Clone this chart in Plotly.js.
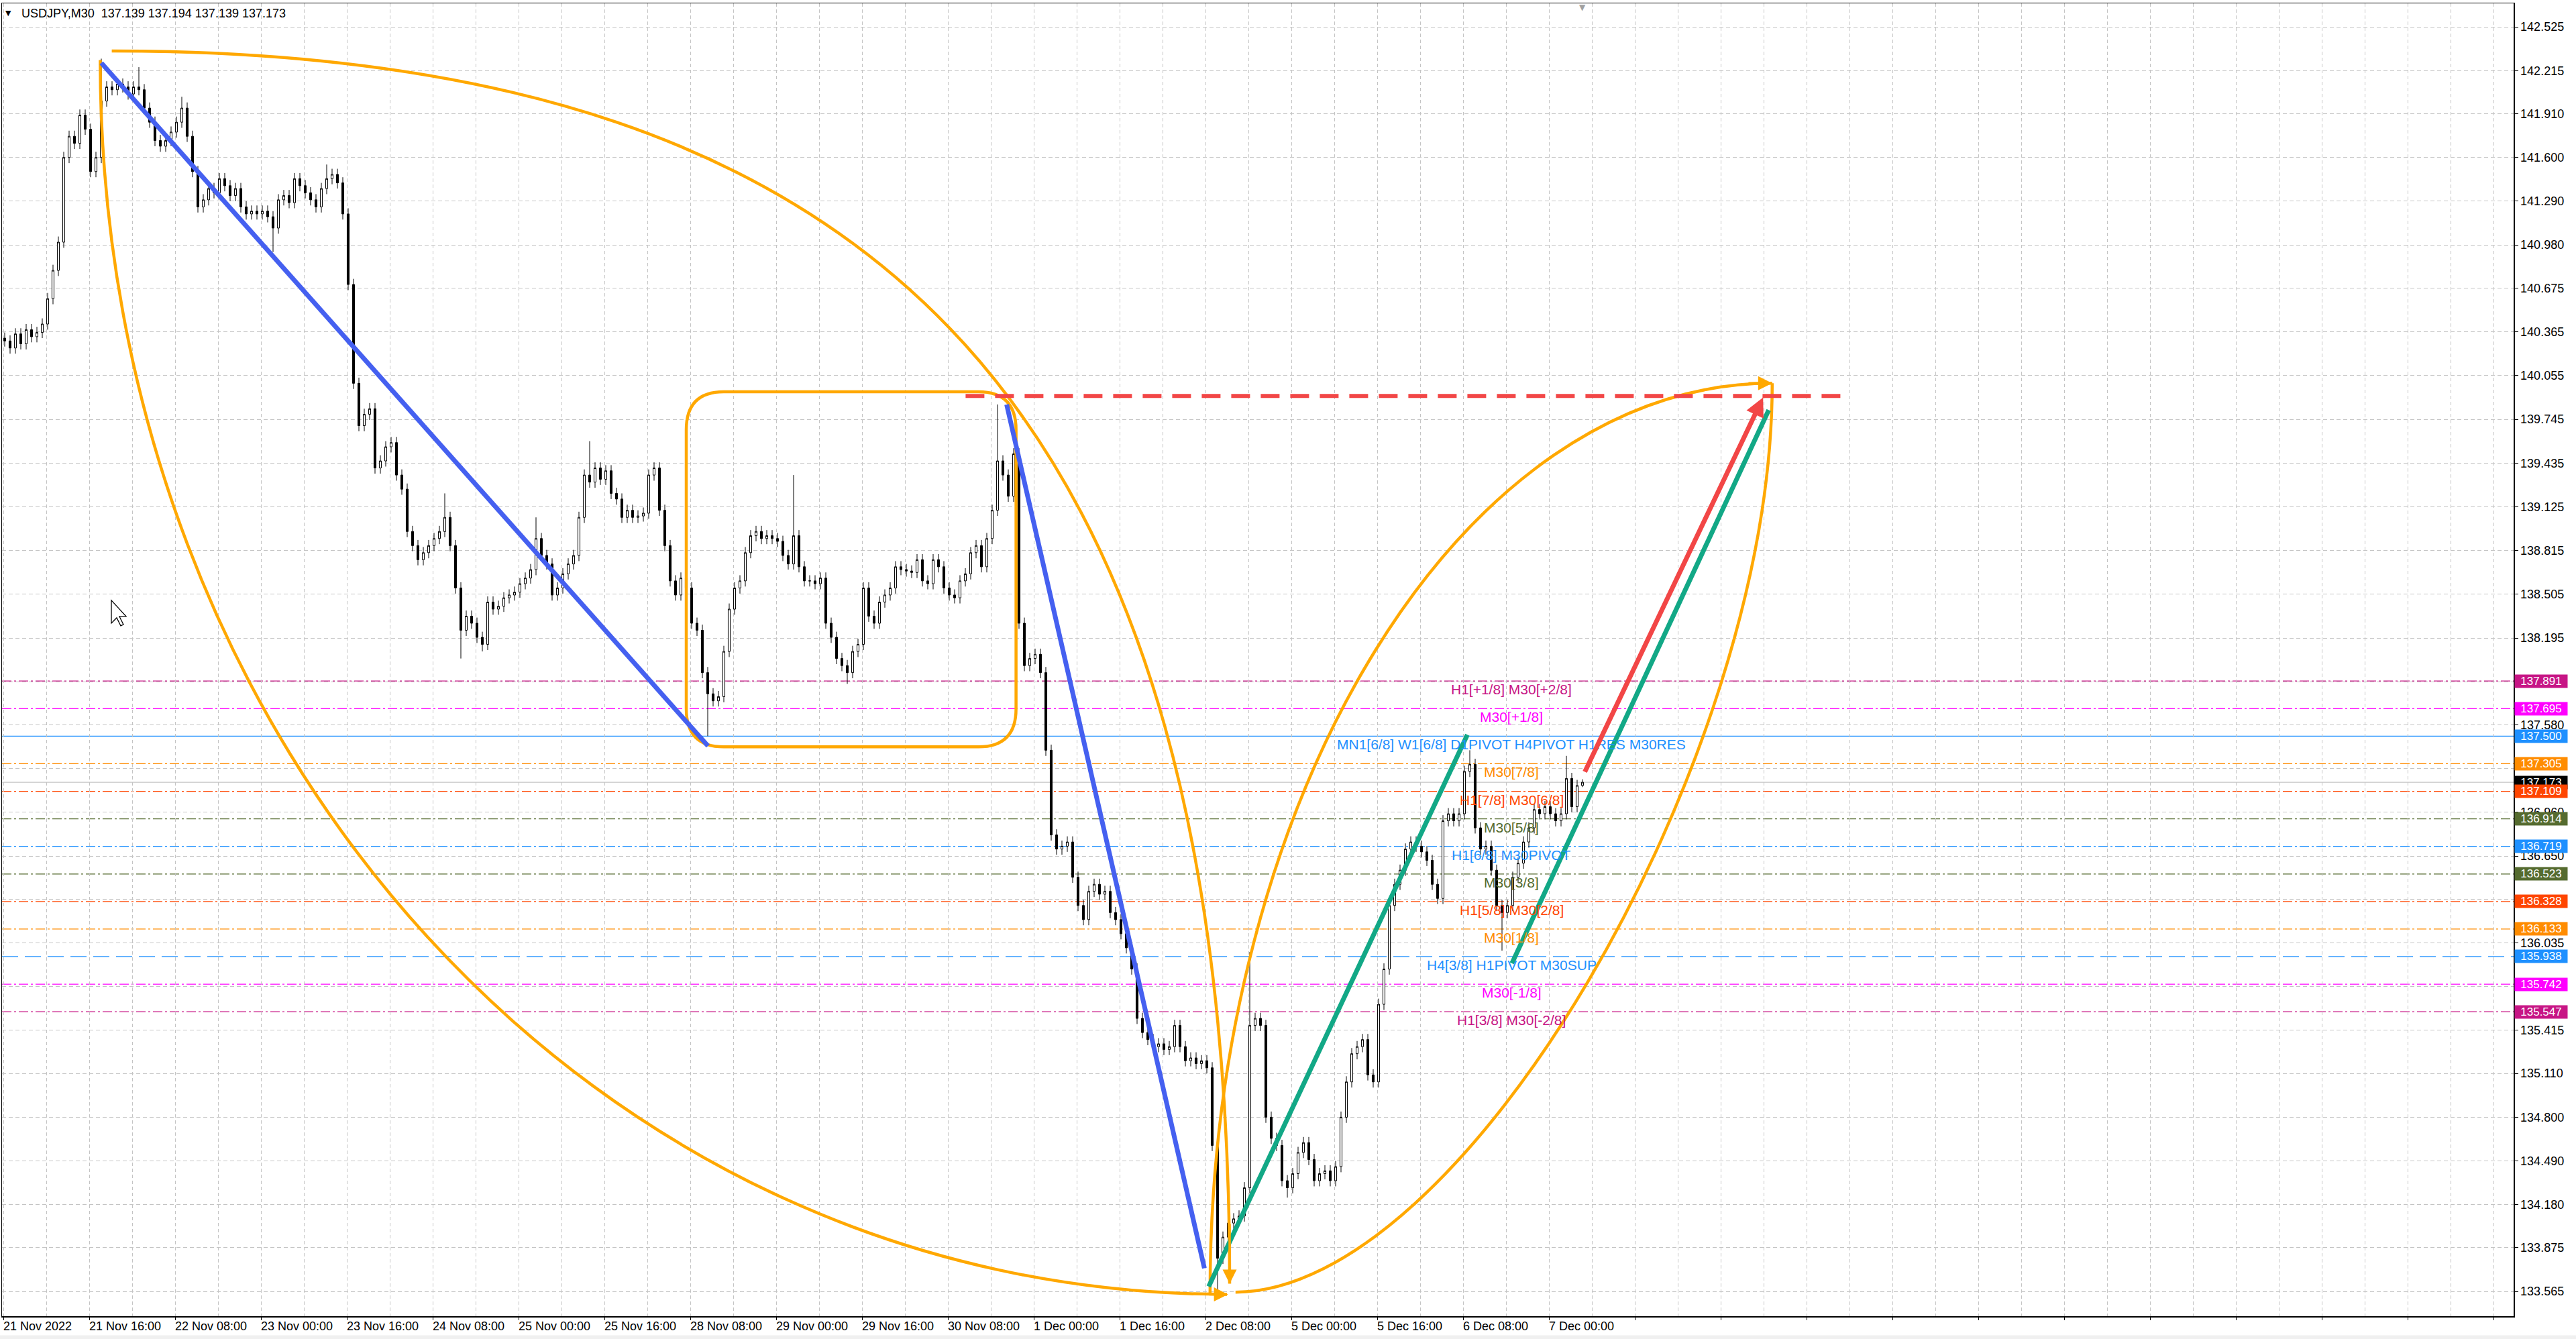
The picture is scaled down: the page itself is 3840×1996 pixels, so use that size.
<!DOCTYPE html>
<html>
<head>
<meta charset="utf-8">
<script src="https://cdn.plot.ly/plotly-3.0.1.min.js"></script>
<style>
html, body { margin: 0; padding: 0; background: #fff; }
#chart { width: 3840px; height: 1996px; }
</style>
</head>
<body>
<div id="chart"></div>
<script>
// hourly closes, one value per two bars (bar 0 = 21 Nov 00:00)
var closes = [
  140.30, 140.25, 140.35, 140.28, 140.38, 140.33, 140.36, 140.42, 140.60, 140.80,
  141.00, 141.60, 141.75, 141.70, 141.90, 141.80, 141.50, 141.60, 142.00, 142.10,
  142.08, 142.12, 142.10, 142.05, 142.10, 142.08, 141.95, 141.85, 141.72, 141.68,
  141.72, 141.78, 141.85, 141.95, 141.75, 141.50, 141.25, 141.30, 141.38, 141.35,
  141.45, 141.40, 141.33, 141.38, 141.25, 141.20, 141.22, 141.20, 141.22, 141.18,
  141.10, 141.30, 141.33, 141.28, 141.45, 141.40, 141.35, 141.30, 141.25, 141.38,
  141.45, 141.48, 141.42, 141.20, 140.70, 140.00, 139.70, 139.78, 139.82, 139.40,
  139.45, 139.55, 139.58, 139.35, 139.25, 138.95, 138.85, 138.75, 138.80, 138.85,
  138.90, 138.95, 139.05, 138.85, 138.55, 138.25, 138.35, 138.30, 138.20, 138.15,
  138.45, 138.40, 138.42, 138.48, 138.50, 138.52, 138.58, 138.62, 138.68, 138.90,
  138.78, 138.72, 138.50, 138.55, 138.65, 138.72, 138.78, 139.05, 139.35, 139.30,
  139.40, 139.32, 139.38, 139.22, 139.18, 139.05, 139.10, 139.05, 139.06, 139.08,
  139.35, 139.40, 139.10, 138.85, 138.60, 138.50, 138.62, 138.55, 138.30, 138.25,
  137.95, 137.80, 137.75, 137.78, 138.10, 138.40, 138.55, 138.60, 138.80, 138.92,
  138.95, 138.90, 138.92, 138.90, 138.88, 138.78, 138.72, 138.92, 138.70, 138.60,
  138.60, 138.58, 138.62, 138.30, 138.20, 138.05, 138.00, 137.95, 138.10, 138.15,
  138.55, 138.35, 138.30, 138.45, 138.50, 138.55, 138.70, 138.68, 138.67, 138.66,
  138.75, 138.60, 138.58, 138.75, 138.70, 138.55, 138.50, 138.48, 138.60, 138.65,
  138.80, 138.85, 138.70, 138.90, 139.10, 139.45, 139.35, 139.20, 139.50, 138.30,
  138.00, 138.05, 138.08, 137.95, 137.40, 136.80, 136.70, 136.72, 136.75, 136.50,
  136.30, 136.20, 136.40, 136.45, 136.38, 136.40, 136.25, 136.20, 136.10, 136.00,
  135.85, 135.50, 135.40, 135.35, 135.30, 135.32, 135.28, 135.30, 135.45, 135.30,
  135.20, 135.22, 135.18, 135.20, 135.15, 134.60, 133.80, 133.95, 134.05, 134.08,
  134.10, 134.30, 135.45, 135.50, 135.45, 134.80, 134.65, 134.60, 134.35, 134.30,
  134.40, 134.55, 134.62, 134.50, 134.35, 134.40, 134.42, 134.35, 134.45, 134.80,
  135.05, 135.25, 135.30, 135.35, 135.10, 135.05, 135.60, 135.85, 136.30, 136.45,
  136.55, 136.70, 136.75, 136.72, 136.68, 136.62, 136.45, 136.35, 136.90, 136.95,
  136.90, 136.95, 137.25, 137.30, 136.85, 136.70, 136.72, 136.55, 136.30, 136.25,
  136.30, 136.50, 136.60, 136.75, 136.85, 136.98, 136.95, 137.00, 136.95, 136.90,
  136.95, 137.20, 137.00, 137.15, 137.173
];
var firstOpen = 140.32;
// long wicks that stand out: [hour index, price]
var highSpikes = [[18, 142.30], [25, 142.24], [33, 142.03], [60, 141.55], [82, 139.22], [99, 139.05],
  [109, 139.59], [147, 139.35], [185, 139.85], [232, 135.97], [273, 137.40], [291, 137.36], [294, 137.194]];
var lowSpikes = [[50, 140.93], [85, 138.05], [89, 138.10], [131, 137.50], [157, 137.87], [226, 133.58],
  [239, 134.23], [279, 135.98], [294, 137.139]];

// x axis labels, every 32 bars
var timeLabels = ['21 Nov 2022', '21 Nov 16:00', '22 Nov 08:00', '23 Nov 00:00', '23 Nov 16:00',
  '24 Nov 08:00', '25 Nov 00:00', '25 Nov 16:00', '28 Nov 08:00', '29 Nov 00:00', '29 Nov 16:00',
  '30 Nov 08:00', '1 Dec 00:00', '1 Dec 16:00', '2 Dec 08:00', '5 Dec 00:00', '5 Dec 16:00',
  '6 Dec 08:00', '7 Dec 00:00'];
var priceTicks = [142.525, 142.215, 141.910, 141.600, 141.290, 140.980, 140.675, 140.365, 140.055,
  139.745, 139.435, 139.125, 138.815, 138.505, 138.195, 137.885, 137.580, 137.270, 136.960, 136.650,
  136.345, 136.035, 135.725, 135.415, 135.110, 134.800, 134.490, 134.180, 133.875, 133.565];
// ticks whose text sits fully under a price tag
var hiddenTicks = [137.885, 137.270, 135.725];

// murrey levels
var levelPrices = [137.891, 137.695, 137.500, 137.305, 137.109, 136.914, 136.719, 136.523, 136.328,
  136.133, 135.938, 135.742, 135.547];
var levelColors = ['#C71585', '#FF00FF', '#1E90FF', '#FF8C00', '#FF4500', '#556B2F', '#1E90FF',
  '#556B2F', '#FF4500', '#FF8C00', '#1E90FF', '#FF00FF', '#C71585'];
var levelDash = ['d', 'd', 's', 'd', 'd', 'd', 'd', 'd', 'd', 'd', 'l', 'd', 'd'];
var levelTexts = ['H1[+1/8] M30[+2/8]', 'M30[+1/8]', 'MN1[6/8] W1[6/8] D1PIVOT H4PIVOT H1RES M30RES',
  'M30[7/8]', 'H1[7/8] M30[6/8]', 'M30[5/8]', 'H1[6/8] M30PIVOT', 'M30[3/8]', 'H1[5/8] M30[2/8]',
  'M30[1/8]', 'H4[3/8] H1PIVOT M30SUP', 'M30[-1/8]', 'H1[3/8] M30[-2/8]'];
var levelTextBar = 562;
var lastPrice = 137.173;

// drawn objects, [bar, price]
var blueLines = [[[36.5, 142.27], [262.6, 137.43]], [[373.9, 139.85], [447.6, 133.73]]];
var greenLines = [[[449.2, 133.60], [545.6, 137.51]], [[562.2, 135.89], [657.9, 139.81]]];
var redArrow = [[589.2, 137.24], [655.8, 139.90]];
var redDashed = [[358.6, 139.91], [685.4, 139.91]];
var boxRange = [[254.5, 137.424], [377.4, 139.94]];
// arcs: start point, end point, which end is vertical, fullness
var arcA = { from: [40.4, 142.355], to: [457, 133.62], vertical: 'end', k: 0.7 };
var arcB = { from: [36.1, 142.29], to: [456, 133.545], vertical: 'start', k: 0.56 };
var arcC = { from: [449.7, 133.55], to: [659.2, 140.00], vertical: 'start', k: 0.55 };
var arcD = { from: [659.2, 140.00], to: [459.2, 133.56], vertical: 'start', k: 0.42 };
// small orange arrow heads: [tail, tip]
var orangeHeads = [[[457, 134.05], [457, 133.62]], [[449, 133.545], [456.4, 133.545]],
  [[650, 140.0], [659.2, 140.0]]];
// mouse pointer left on the chart
var cursorAt = [40.25, 138.462];

var ORANGE = '#FFA800';
var dashMap = { d: '14px,4px,3px,4px', s: 'solid', l: '24px,10px' };

var opens = [], highs = [], lows = [], xs = [];
closes.forEach(function (c, i) {
  var o = i === 0 ? firstOpen : closes[i - 1];
  opens.push(o);
  highs.push(Math.max(o, c) + 0.04);
  lows.push(Math.min(o, c) - 0.04);
  xs.push(2 * i + 0.5);
});
highSpikes.forEach(function (s) { highs[s[0]] = s[1]; });
lowSpikes.forEach(function (s) { lows[s[0]] = s[1]; });

var data = [
  {
    type: 'candlestick', x: xs, open: opens, high: highs, low: lows, close: closes,
    hoverinfo: 'skip', showlegend: false, whiskerwidth: 0,
    increasing: { line: { color: '#000', width: 1 }, fillcolor: '#fff' },
    decreasing: { line: { color: '#000', width: 1 }, fillcolor: '#000' }
  }
];

var shapes = [];
levelPrices.forEach(function (p, i) {
  shapes.push({
    type: 'line', xref: 'paper', x0: 0, x1: 1, yref: 'y', y0: p, y1: p, layer: 'below',
    line: { color: levelColors[i], width: 1.3, dash: dashMap[levelDash[i]] }
  });
});
shapes.push({
  type: 'line', xref: 'paper', x0: 0, x1: 1, yref: 'y', y0: lastPrice, y1: lastPrice, layer: 'below',
  line: { color: '#b8b8b8', width: 1 }
});

// orange arcs as cubic curves
function arcPath(a) {
  var x0 = a.from[0], y0 = a.from[1], x1 = a.to[0], y1 = a.to[1];
  var c1, c2;
  if (a.vertical === 'start') {
    c1 = [x0, y0 + a.k * (y1 - y0)];
    c2 = [x1 - a.k * (x1 - x0), y1];
  } else {
    c1 = [x0 + a.k * (x1 - x0), y0];
    c2 = [x1, y1 - a.k * (y1 - y0)];
  }
  return 'M' + x0 + ',' + y0 + ' C' + c1[0] + ',' + c1[1] + ' ' + c2[0] + ',' + c2[1] + ' ' + x1 + ',' + y1;
}
[arcA, arcB, arcC, arcD].forEach(function (a) {
  shapes.push({ type: 'path', layer: 'above', path: arcPath(a), line: { color: ORANGE, width: 4.5 } });
});

// rounded box
var bx0 = boxRange[0][0], by0 = boxRange[0][1], bx1 = boxRange[1][0], by1 = boxRange[1][1];
var rx = 14, ry = 0.27;
shapes.push({
  type: 'path', layer: 'above', line: { color: ORANGE, width: 4.5 },
  path: 'M' + (bx0 + rx) + ',' + by1 + ' L' + (bx1 - rx) + ',' + by1 +
    ' Q' + bx1 + ',' + by1 + ' ' + bx1 + ',' + (by1 - ry) +
    ' L' + bx1 + ',' + (by0 + ry) + ' Q' + bx1 + ',' + by0 + ' ' + (bx1 - rx) + ',' + by0 +
    ' L' + (bx0 + rx) + ',' + by0 + ' Q' + bx0 + ',' + by0 + ' ' + bx0 + ',' + (by0 + ry) +
    ' L' + bx0 + ',' + (by1 - ry) + ' Q' + bx0 + ',' + by1 + ' ' + (bx0 + rx) + ',' + by1
});

function lineShape(seg, color, width, dash) {
  return {
    type: 'line', layer: 'above', x0: seg[0][0], y0: seg[0][1], x1: seg[1][0], y1: seg[1][1],
    line: { color: color, width: width, dash: dash || 'solid' }
  };
}
blueLines.forEach(function (s) { shapes.push(lineShape(s, '#4560F0', 7)); });
greenLines.forEach(function (s) { shapes.push(lineShape(s, '#12A886', 7)); });
shapes.push(lineShape(redDashed, '#F24646', 6, '28px,16px'));

// pointer arrow, sized in pixels around its tip
shapes.push({
  type: 'path', layer: 'above', xsizemode: 'pixel', ysizemode: 'pixel',
  xanchor: cursorAt[0], yanchor: cursorAt[1],
  path: 'M0,0 L0,-34 L8,-26 L14,-38 L18,-36 L12,-24 L22,-24 Z',
  fillcolor: '#fff', line: { color: '#000', width: 1.3 }
});

// grey strip under the time scale
shapes.push({
  type: 'rect', xref: 'paper', yref: 'paper', x0: -0.01, x1: 1.03, y0: -0.0185, y1: -0.0145,
  fillcolor: '#f0f0f0', line: { width: 0 }, layer: 'below'
});

var annotations = [];
var FONT = 'Liberation Sans, Arial, sans-serif';

// level texts in the chart
levelPrices.forEach(function (p, i) {
  annotations.push({
    x: levelTextBar, y: p, xanchor: 'center', yanchor: 'top', yshift: 1, showarrow: false,
    text: levelTexts[i], font: { family: FONT, size: 21, color: levelColors[i] }
  });
});
// price tags on the scale: last price first, levels drawn over it
function priceTag(p, color) {
  return {
    xref: 'paper', x: 1, xanchor: 'left', xshift: 1, y: p, yanchor: 'middle', showarrow: false,
    text: p.toFixed(3), bgcolor: color, width: 78, borderpad: 0, align: 'center',
    font: { family: FONT, size: 17, color: '#fff' }
  };
}
annotations.push(priceTag(lastPrice, '#000'));
levelPrices.forEach(function (p, i) { annotations.push(priceTag(p, levelColors[i])); });

// time labels, left aligned at their tick
timeLabels.forEach(function (t, i) {
  annotations.push({
    x: i * 32, xanchor: 'left', xshift: -2, yref: 'paper', y: 0, yanchor: 'top', yshift: -3,
    showarrow: false, text: t, font: { family: FONT, size: 18, color: '#000' }
  });
});
// title and markers
annotations.push({
  xref: 'paper', x: 0, xanchor: 'left', xshift: 27, yref: 'paper', y: 1, yanchor: 'top', yshift: -3,
  showarrow: false, text: 'USDJPY,M30  137.139 137.194 137.139 137.173',
  font: { family: FONT, size: 18, color: '#000' }
});
annotations.push({
  xref: 'paper', x: 0, xanchor: 'left', xshift: 3, yref: 'paper', y: 1, yanchor: 'top', yshift: -6,
  showarrow: false, text: '\u25BC', font: { family: 'DejaVu Sans', size: 11, color: '#000' }
});
annotations.push({
  x: 588.5, xanchor: 'center', yref: 'paper', y: 1, yanchor: 'top', yshift: 3,
  showarrow: false, text: '\u25BC', font: { family: 'DejaVu Sans', size: 12, color: '#a0a0a0' }
});
// arrows
annotations.push({
  x: redArrow[1][0], y: redArrow[1][1], ax: redArrow[0][0], ay: redArrow[0][1], axref: 'x', ayref: 'y',
  text: '', showarrow: true, arrowhead: 2, arrowsize: 0.8, arrowwidth: 7, arrowcolor: '#F24646', standoff: 0
});
orangeHeads.forEach(function (h) {
  annotations.push({
    x: h[1][0], y: h[1][1], ax: h[0][0], ay: h[0][1], axref: 'x', ayref: 'y',
    text: '', showarrow: true, arrowhead: 2, arrowsize: 1.2, arrowwidth: 3.5, arrowcolor: ORANGE, standoff: 0
  });
});

var gridColor = '#c4c4c4';
var layout = {
  width: 3840, height: 1996,
  margin: { l: 3, r: 93, t: 5, b: 34, pad: 0 },
  paper_bgcolor: '#fff', plot_bgcolor: '#fff',
  showlegend: false, boxgap: 0.45, dragmode: false,
  xaxis: {
    range: [-0.5, 935.5], rangeslider: { visible: false },
    tickmode: 'linear', tick0: 0, dtick: 32, showticklabels: false,
    ticks: 'outside', ticklen: 4, tickcolor: '#000',
    showgrid: true, gridcolor: gridColor, griddash: '5px,4px', gridwidth: 1,
    minor: { tick0: 0, dtick: 16, showgrid: true, gridcolor: gridColor, griddash: '5px,4px', ticks: '' },
    showline: true, linecolor: '#000', linewidth: 1.5, mirror: true, zeroline: false, fixedrange: true
  },
  yaxis: {
    range: [133.39, 142.692], side: 'right',
    tickmode: 'array', tickvals: priceTicks,
    ticktext: priceTicks.map(function (v) { return hiddenTicks.indexOf(v) >= 0 ? '' : v.toFixed(3); }),
    ticks: 'outside', ticklen: 5, tickcolor: '#000',
    tickfont: { family: FONT, size: 18, color: '#000' },
    showgrid: true, gridcolor: gridColor, griddash: '6px,4px', gridwidth: 1,
    showline: true, linecolor: '#000', linewidth: 1.5, mirror: true, zeroline: false, fixedrange: true
  },
  shapes: shapes,
  annotations: annotations
};

Plotly.newPlot('chart', data, layout, { staticPlot: true, displayModeBar: false });
</script>
</body>
</html>
